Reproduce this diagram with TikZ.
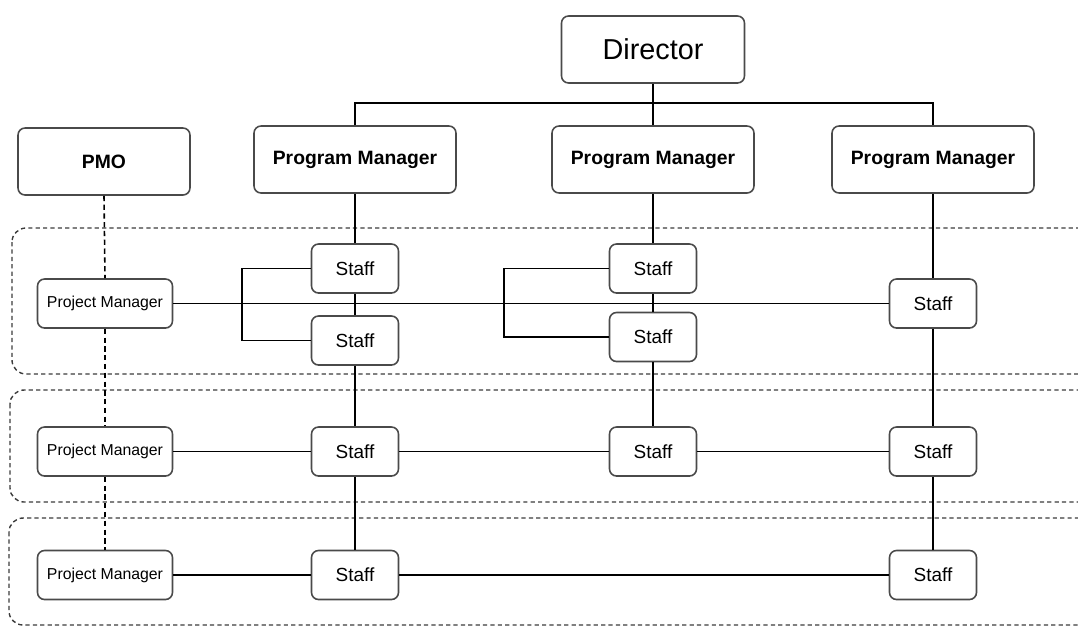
\documentclass[tikz,border=0pt]{standalone}
\usepackage{fontspec}
\setmainfont{Liberation Sans}
\usetikzlibrary{positioning}
\definecolor{boxline}{HTML}{4A4A4A}
\definecolor{bandline}{HTML}{3C3C3C}

\begin{document}
\begin{tikzpicture}[x=0.02cm,y=-0.02cm,
    box/.style={draw=boxline,line width=0.9pt,rounded corners=4pt,fill=white,inner sep=0pt},
    topbox/.style={box,minimum width=3.66cm,minimum height=1.34cm,font=\fontsize{16.4}{18}\selectfont},
    progbox/.style={box,minimum width=4.04cm,minimum height=1.34cm,font=\bfseries\fontsize{11}{13}\selectfont},
    pmobox/.style={progbox,minimum width=3.44cm},
    projbox/.style={box,minimum width=2.7cm,minimum height=0.98cm,font=\fontsize{9}{11}\selectfont},
    staffbox/.style={box,minimum width=1.74cm,minimum height=0.98cm,font=\fontsize{10.8}{12}\selectfont},
    link/.style={draw=black,line width=0.9pt},
    dotlink/.style={draw=black,line width=0.9pt,dash pattern=on 3pt off 2pt},
    band/.style={draw=bandline,line width=0.8pt,dash pattern=on 2.4pt off 1.8pt,rounded corners=8pt}]
  \useasboundingbox (0,0) rectangle (1078,627);
  \clip (0,0) rectangle (1078,627);
  % bands
  \draw[band] (12,228) rectangle (1110,374);
  \draw[band] (10,390) rectangle (1110,502);
  \draw[band] (9,518) rectangle (1110,625);
  % top rows
  \node[topbox]  (dir) at (653,49.5)  {Director};
  \node[pmobox]  (pmo) at (104,161.5) {PMO};
  \node[progbox] (pg1) at (355,159.5) {Program Manager};
  \node[progbox] (pg2) at (653,159.5) {Program Manager};
  \node[progbox] (pg3) at (933,159.5) {Program Manager};
  % project managers
  \node[projbox] (pj1) at (105,303.5) {Project Manager};
  \node[projbox] (pj2) at (105,451.5) {Project Manager};
  \node[projbox] (pj3) at (105,575)   {Project Manager};
  % staff
  \node[staffbox] (s1a) at (355,268.5) {Staff};
  \node[staffbox] (s1b) at (355,340.5) {Staff};
  \node[staffbox] (s2a) at (653,268.5) {Staff};
  \node[staffbox] (s2b) at (653,337)   {Staff};
  \node[staffbox] (s3a) at (933,303.5) {Staff};
  \node[staffbox] (s1c) at (355,451.5) {Staff};
  \node[staffbox] (s2c) at (653,451.5) {Staff};
  \node[staffbox] (s3c) at (933,451.5) {Staff};
  \node[staffbox] (s1d) at (355,575)   {Staff};
  \node[staffbox] (s3d) at (933,575)   {Staff};
  % director to programs
  \coordinate (bus) at (653,103);
  \draw[link] (dir.south) -- (bus);
  \draw[link] (pg1.north) |- (bus) -| (pg3.north);
  \draw[link] (bus) -- (pg2.north);
  % columns
  \draw[link] (pg1.south) -- (s1a.north);
  \draw[link] (s1a.south) -- (s1b.north);
  \draw[link] (s1b.south) -- (s1c.north);
  \draw[link] (s1c.south) -- (s1d.north);
  \draw[link] (pg2.south) -- (s2a.north);
  \draw[link] (s2a.south) -- (s2b.north);
  \draw[link] (s2b.south) -- (s2c.north);
  \draw[link] (pg3.south) -- (s3a.north);
  \draw[link] (s3a.south) -- (s3c.north);
  \draw[link] (s3c.south) -- (s3d.north);
  % brackets
  \draw[link] (s1a.west) -- ++(-69,0) |- (s1b.west);
  \draw[link] (s2a.west) -- ++(-105,0) |- (s2b.west);
  % rows
  \draw[link] (pj1.east) -- (s3a.west);
  \draw[link] (pj2.east) -- (s1c.west);
  \draw[link] (s1c.east) -- (s2c.west);
  \draw[link] (s2c.east) -- (s3c.west);
  \draw[link] (pj3.east) -- (s1d.west);
  \draw[link] (s1d.east) -- (s3d.west);
  % pmo line
  \draw[dotlink] (pmo.south) -- (pj1.north);
  \draw[dotlink] (pj1.south) -- (pj2.north);
  \draw[dotlink] (pj2.south) -- (pj3.north);
\end{tikzpicture}
\end{document}
